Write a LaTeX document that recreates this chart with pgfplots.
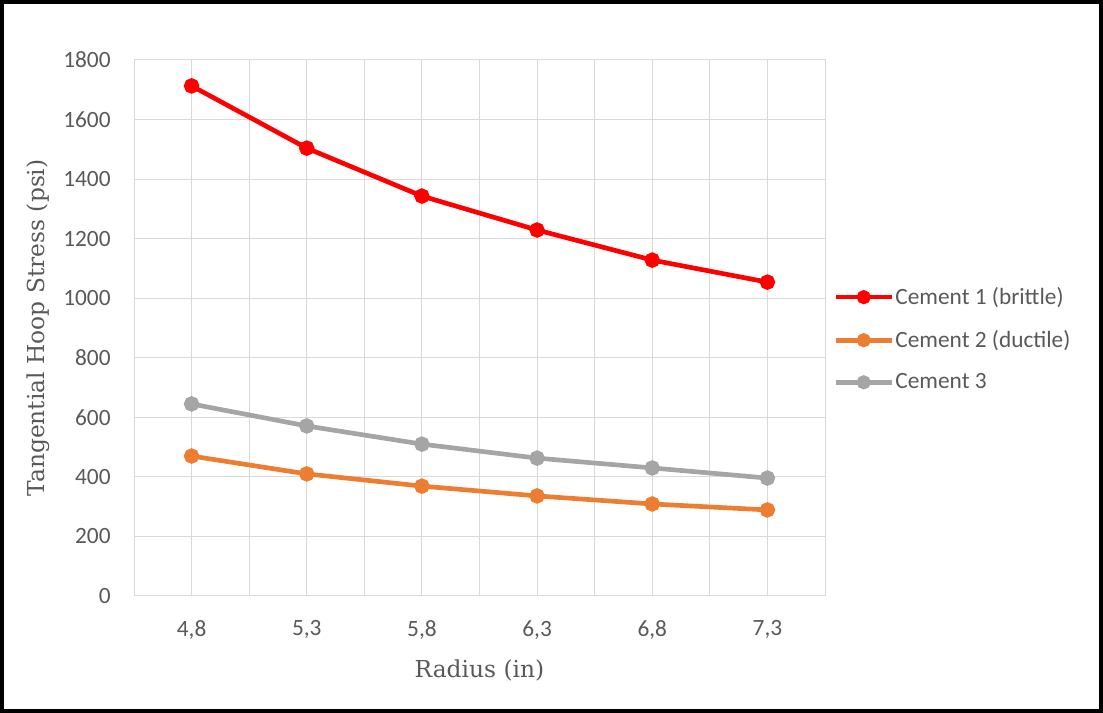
\documentclass[border=0pt]{standalone}
\usepackage{fontspec}
\setmainfont{Carlito}
\newfontfamily\serifl{DejaVu Serif}
\usepackage{pgfplots}
\pgfplotsset{compat=1.18}
\definecolor{c1}{HTML}{FF0000}
\definecolor{c2}{HTML}{ED7D31}
\definecolor{c3}{HTML}{A5A5A5}
\definecolor{gridc}{HTML}{D9D9D9}
\definecolor{txt}{HTML}{595959}
\begin{document}
\begin{tikzpicture}[x=0.75pt,y=0.75pt]
\path[use as bounding box] (0,0) rectangle (1103,713);
\draw[line width=3pt] (2,2) rectangle (1101,711);
\begin{axis}[
  at={(100.5pt,87.75pt)}, anchor=south west,
  scale only axis, width=518.25pt, height=402pt,
  xmin=-0.5, xmax=5.5, ymin=0, ymax=1800,
  xtick={0,...,5},
  xticklabels={{4,8},{5,3},{5,8},{6,3},{6,8},{7,3}},
  minor xtick={-0.5,0.5,...,5.5},
  ytick={0,200,...,1800},
  /pgf/number format/assume math mode=true,
  /pgf/number format/1000 sep={},
  grid=both,
  major grid style={draw=gridc, line width=0.75pt},
  minor grid style={draw=gridc, line width=0.75pt},
  axis line style={draw=gridc, line width=0.75pt},
  major tick length=0pt, minor tick length=0pt,
  tick style={draw=none},
  ticklabel style={font=\fontsize{17.5}{20}\selectfont, text=txt},
  yticklabel style={anchor=east, xshift=-14pt},
  xticklabel style={anchor=north, yshift=-15pt},
  xlabel={Radius (in)},
  ylabel={Tangential Hoop Stress (psi)},
  label style={font=\serifl\fontsize{17.5}{21}\selectfont, text=txt},
  xlabel style={at={(axis description cs:0.5,-0.138)}, anchor=center},
  ylabel style={at={(axis description cs:-0.139,0.5)}, anchor=center},
  legend style={at={(1.006,0.479)}, anchor=west, draw=none, fill=none,
    font=\fontsize{17.5}{20}\selectfont, text=txt, row sep=14pt,
    nodes={inner xsep=1pt}},
  legend cell align=left,
  legend image code/.code={\draw[#1, mark repeat=2, mark phase=2, mark size=3.5pt] plot coordinates {(0pt,0pt) (21pt,0pt) (42pt,0pt)};},
  every axis plot/.append style={line width=3.5pt, mark=*, mark size=4pt, mark options={solid}},
]
\addplot[color=c1] coordinates {(0,1713) (1,1504) (2,1343) (3,1229) (4,1128) (5,1054)};
\addlegendentry{Cement 1 (brittle)}
\addplot[color=c2] coordinates {(0,470) (1,410) (2,369) (3,336) (4,309) (5,289)};
\addlegendentry{Cement 2 (ductile)}
\addplot[color=c3] coordinates {(0,645) (1,571) (2,510) (3,463) (4,430) (5,396)};
\addlegendentry{Cement 3}
\end{axis}
\end{tikzpicture}
\end{document}
